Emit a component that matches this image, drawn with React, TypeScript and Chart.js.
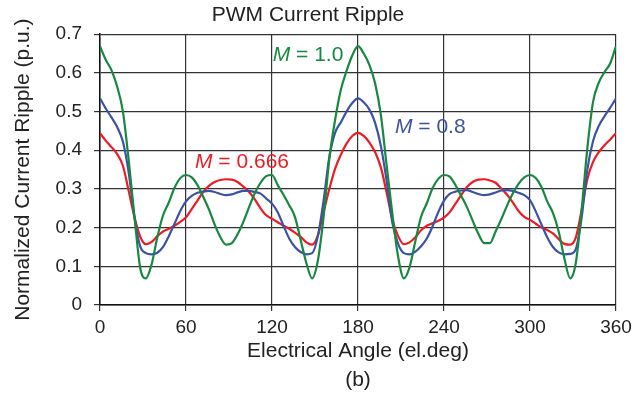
import { useEffect, useRef } from "react";
import { Chart, registerables } from "chart.js";

Chart.register(...registerables);

const FONT = "'Liberation Sans', Arial, Helvetica, sans-serif";

// Electrical angle (el.deg)
const angles = [
  0, 4, 8, 12, 16, 20, 24, 28, 32, 36, 40, 44, 48, 52, 56, 60, 64, 68, 72, 76, 80, 84, 88,
  92, 96, 100, 104, 108, 112, 116, 120, 124, 128, 132, 136, 140, 144, 148, 152, 156, 160,
  164, 168, 172, 176, 180, 184, 188, 192, 196, 200, 204, 208, 212, 216, 220, 224, 228, 232,
  236, 240, 244, 248, 252, 256, 260, 264, 268, 272, 276, 280, 284, 288, 292, 296, 300, 304,
  308, 312, 316, 320, 324, 328, 332, 336, 340, 344, 348, 352, 356, 360,
];

// M = 1.0
const rippleM100 = [
  0.669, 0.634, 0.607, 0.564, 0.5, 0.375, 0.23, 0.097, 0.069, 0.105, 0.175, 0.232, 0.265,
  0.303, 0.328, 0.336, 0.33, 0.31, 0.28, 0.247, 0.208, 0.175, 0.156, 0.16, 0.183, 0.215,
  0.253, 0.289, 0.316, 0.333, 0.336, 0.31, 0.285, 0.258, 0.228, 0.168, 0.108, 0.069, 0.115,
  0.228, 0.378, 0.478, 0.556, 0.605, 0.645, 0.669, 0.65, 0.62, 0.572, 0.49, 0.36, 0.235,
  0.125, 0.069, 0.098, 0.165, 0.228, 0.263, 0.302, 0.326, 0.336, 0.332, 0.31, 0.282, 0.253,
  0.218, 0.184, 0.16, 0.16, 0.19, 0.222, 0.257, 0.288, 0.313, 0.33, 0.336, 0.328, 0.305,
  0.268, 0.238, 0.19, 0.12, 0.069, 0.11, 0.245, 0.405, 0.525, 0.575, 0.602, 0.625, 0.669,
];

// M = 0.8
const rippleM080 = [
  0.534, 0.508, 0.485, 0.46, 0.422, 0.343, 0.228, 0.152, 0.134, 0.131, 0.135, 0.15, 0.178,
  0.21, 0.243, 0.268, 0.282, 0.29, 0.293, 0.295, 0.292, 0.287, 0.284, 0.286, 0.291, 0.295,
  0.295, 0.292, 0.288, 0.275, 0.262, 0.24, 0.205, 0.172, 0.15, 0.137, 0.131, 0.134, 0.178,
  0.27, 0.383, 0.445, 0.472, 0.5, 0.522, 0.534, 0.524, 0.505, 0.47, 0.41, 0.32, 0.212,
  0.158, 0.134, 0.131, 0.138, 0.152, 0.172, 0.203, 0.24, 0.27, 0.287, 0.293, 0.296, 0.297,
  0.292, 0.287, 0.284, 0.286, 0.291, 0.296, 0.297, 0.295, 0.29, 0.284, 0.271, 0.242, 0.208,
  0.175, 0.15, 0.136, 0.131, 0.132, 0.145, 0.225, 0.35, 0.424, 0.463, 0.488, 0.51, 0.534,
];

// M = 0.666
const rippleM0666 = [
  0.444, 0.425, 0.408, 0.39, 0.36, 0.295, 0.228, 0.177, 0.157, 0.163, 0.178, 0.19, 0.197,
  0.205, 0.215, 0.227, 0.248, 0.27, 0.292, 0.308, 0.318, 0.323, 0.325, 0.324, 0.318, 0.306,
  0.292, 0.273, 0.25, 0.232, 0.223, 0.214, 0.205, 0.197, 0.187, 0.176, 0.162, 0.156, 0.18,
  0.24, 0.3, 0.352, 0.388, 0.417, 0.437, 0.445, 0.437, 0.42, 0.395, 0.355, 0.29, 0.22,
  0.178, 0.157, 0.162, 0.175, 0.193, 0.205, 0.211, 0.218, 0.226, 0.24, 0.262, 0.284, 0.305,
  0.318, 0.324, 0.325, 0.322, 0.316, 0.301, 0.285, 0.265, 0.243, 0.228, 0.22, 0.21, 0.2,
  0.194, 0.185, 0.17, 0.158, 0.156, 0.175, 0.245, 0.325, 0.37, 0.395, 0.413, 0.428, 0.444,
];

const seriesNames = ["M = 1.0", "M = 0.8", "M = 0.666"];
const seriesValues = [rippleM100, rippleM080, rippleM0666];
const seriesColors = ["#16883f", "#3c52a6", "#ec1c24"];

// in-plot labels: series index, value text, anchor (deg, p.u.) of the text's left baseline
const labelSeries = [0, 1, 2];
const labelValues = ["1.0", "0.8", "0.666"];
const labelAngles = [120.5, 205.8, 66.3];
const labelLevels = [0.6305, 0.4437, 0.3532];

const xMin = 0;
const xMax = 360;
const xStep = 60;
const yMin = 0;
const yMax = 0.7;
const yStep = 0.1;

const chartTitle = "PWM Current Ripple";
const xTitle = ["Electrical Angle (el.deg)", "(b)"];
const yTitle = "Normalized Current Ripple (p.u.)";

const labelPlugin = {
  id: "mLabels",
  afterDatasetsDraw(chart: any) {
    const { ctx, scales } = chart;
    ctx.save();
    ctx.textBaseline = "alphabetic";
    ctx.textAlign = "left";
    labelSeries.forEach((s, i) => {
      const px = scales.x.getPixelForValue(labelAngles[i]);
      const py = scales.y.getPixelForValue(labelLevels[i]);
      ctx.fillStyle = seriesColors[s];
      ctx.font = `italic 21px ${FONT}`;
      ctx.fillText("M", px, py);
      const w = ctx.measureText("M").width;
      ctx.font = `21px ${FONT}`;
      ctx.fillText(" = " + labelValues[i], px + w, py);
    });
    ctx.restore();
  },
};

export default function App() {
  const ref = useRef<HTMLCanvasElement | null>(null);

  useEffect(() => {
    document.body.style.margin = "0";
    const canvas = ref.current;
    if (!canvas) return;
    const chart = new Chart(canvas, {
      type: "line",
      data: {
        datasets: seriesValues.map((vals, i) => ({
          label: seriesNames[i],
          data: angles.map((a, j) => ({ x: a, y: vals[j] })),
          borderColor: seriesColors[i],
          backgroundColor: seriesColors[i],
          borderWidth: 2.2,
          pointRadius: 0,
          fill: false,
          cubicInterpolationMode: "monotone" as const,
        })),
      },
      options: {
        animation: false,
        responsive: false,
        devicePixelRatio: 1,
        layout: { padding: { left: 0, right: 28, top: 0, bottom: 0 } },
        plugins: {
          legend: { display: false },
          tooltip: { enabled: false },
          title: {
            display: true,
            text: chartTitle,
            color: "#222",
            font: { family: FONT, size: 21, weight: "normal" as const },
            padding: { top: 3, bottom: 6 },
          },
        },
        scales: {
          x: {
            type: "linear",
            min: xMin,
            max: xMax,
            afterFit: (scale: any) => {
              scale.height = 88;
            },
            ticks: {
              stepSize: xStep,
              color: "#222",
              font: { family: FONT, size: 19 },
              padding: 5,
              maxRotation: 0,
            },
            grid: { color: "#333", lineWidth: 1.2, tickLength: 6, drawTicks: true },
            border: { display: true, color: "#111", width: 1.5 },
            title: {
              display: true,
              text: xTitle,
              color: "#222",
              font: { family: FONT, size: 21, lineHeight: 1.38 },
              padding: { top: 0, bottom: -2 },
            },
          },
          y: {
            type: "linear",
            min: yMin,
            max: yMax,
            afterFit: (scale: any) => {
              scale.width = 100;
            },
            ticks: {
              stepSize: yStep,
              color: "#222",
              font: { family: FONT, size: 19 },
              padding: 12,
            },
            grid: { color: "#333", lineWidth: 1.2, tickLength: 6, drawTicks: true },
            border: { display: true, color: "#111", width: 1.5 },
            title: {
              display: true,
              text: yTitle,
              color: "#222",
              font: { family: FONT, size: 21 },
              padding: { top: 11, bottom: 0 },
            },
          },
        },
      },
      plugins: [labelPlugin],
    });
    return () => chart.destroy();
  }, []);

  return (
    <div style={{ width: 644, height: 393 }}>
      <canvas ref={ref} width={644} height={393} />
    </div>
  );
}
